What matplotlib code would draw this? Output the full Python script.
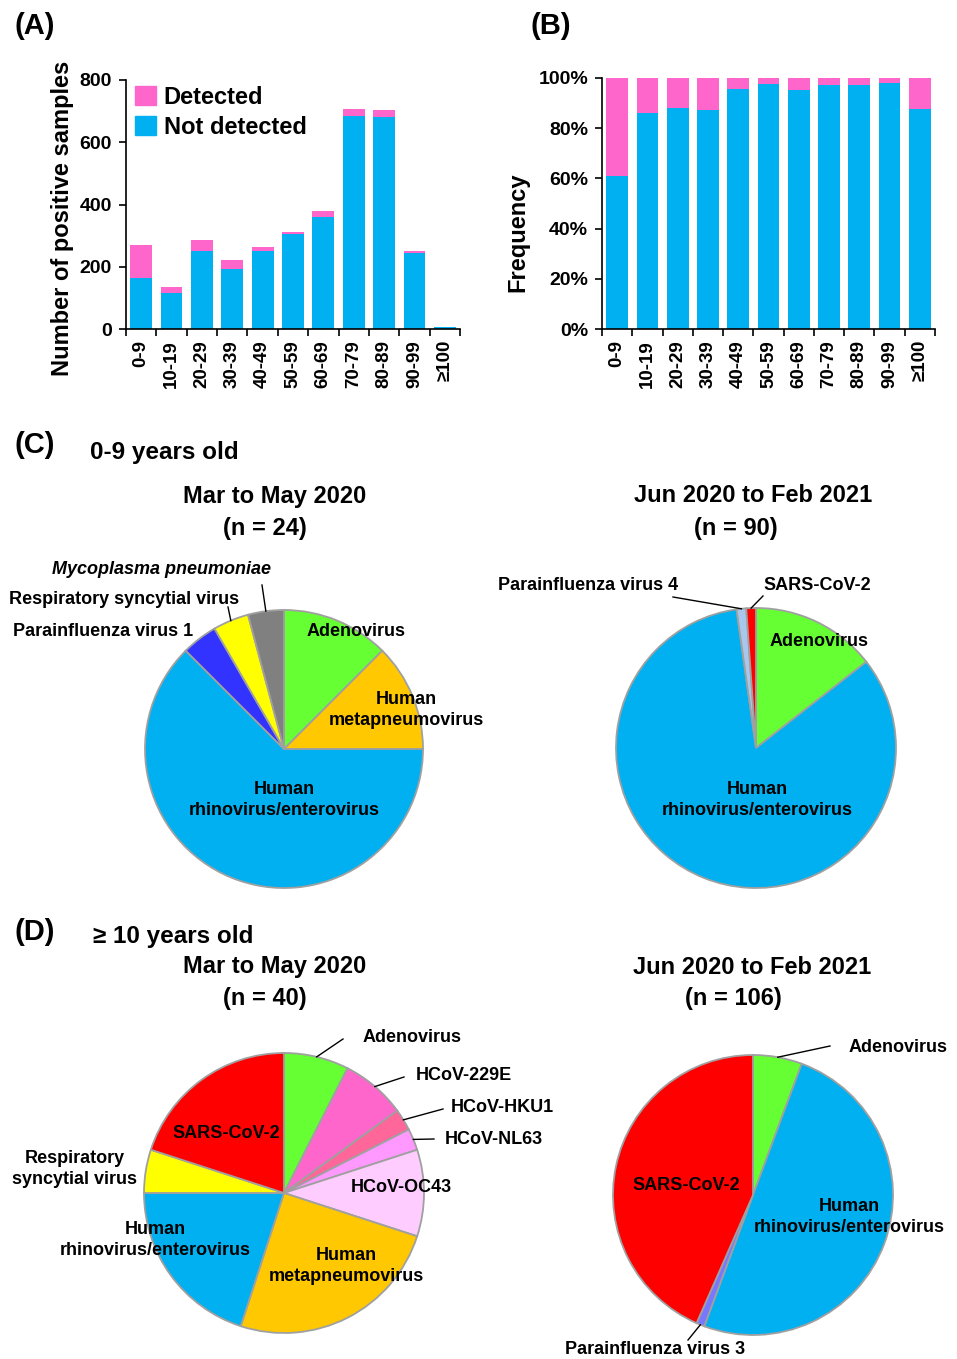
import matplotlib
matplotlib.use("Agg")
import matplotlib.pyplot as plt
from matplotlib.ticker import PercentFormatter
from matplotlib.patches import Patch
import numpy as np

plt.rcParams['font.family'] = ['Liberation Sans', 'DejaVu Sans']
plt.rcParams['font.weight'] = 'bold'

# ---- data ----
age_groups = ['0-9', '10-19', '20-29', '30-39', '40-49', '50-59',
              '60-69', '70-79', '80-89', '90-99', '≥100']
not_detected = np.array([165, 117, 251, 194, 251, 306, 361, 685, 682, 245, 7])
total = np.array([270, 136, 285, 222, 262, 313, 379, 706, 703, 250, 8])
detected = total - not_detected

# pies: slices listed clockwise from 12 o'clock
c1_labels = ['Adenovirus', 'Human metapneumovirus', 'Human rhinovirus/enterovirus',
             'Parainfluenza virus 1', 'Respiratory syncytial virus', 'Mycoplasma pneumoniae']
c1_counts = [3, 3, 15, 1, 1, 1]

c2_labels = ['Adenovirus', 'Human rhinovirus/enterovirus', 'Parainfluenza virus 4', 'SARS-CoV-2']
c2_counts = [13, 75, 1, 1]

d1_labels = ['Adenovirus', 'HCoV-229E', 'HCoV-HKU1', 'HCoV-NL63', 'HCoV-OC43',
             'Human metapneumovirus', 'Human rhinovirus/enterovirus',
             'Respiratory syncytial virus', 'SARS-CoV-2']
d1_counts = [3, 3, 1, 1, 4, 10, 8, 2, 8]

d2_labels = ['Adenovirus', 'Human rhinovirus/enterovirus', 'Parainfluenza virus 3', 'SARS-CoV-2']
d2_counts = [6, 53, 1, 46]

PINK = '#FF66CC'
BLUE = '#00B0F0'
pie_colors = {
    'Adenovirus': '#66FF33',
    'Human metapneumovirus': '#FFC800',
    'Human rhinovirus/enterovirus': BLUE,
    'Parainfluenza virus 1': '#3333FF',
    'Parainfluenza virus 3': '#7777FF',
    'Parainfluenza virus 4': '#A9C7EC',
    'Respiratory syncytial virus': '#FFFF00',
    'Mycoplasma pneumoniae': '#808080',
    'SARS-CoV-2': '#FF0000',
    'HCoV-229E': '#FF66CC',
    'HCoV-HKU1': '#FF6699',
    'HCoV-NL63': '#FF99FF',
    'HCoV-OC43': '#FFCCFF',
}

W, H = 957, 1359
fig = plt.figure(figsize=(W / 100, H / 100), dpi=100)


def box(left, top, right, bottom):
    return [left / W, 1 - bottom / H, (right - left) / W, (bottom - top) / H]


def ftext(x, y, s, size=13, **kw):
    kw.setdefault('ha', 'center')
    kw.setdefault('va', 'center')
    kw.setdefault('linespacing', 1.35)
    fig.text(x / W, 1 - y / H, s, fontsize=size, fontweight='bold', **kw)


def style_bar_axes(ax):
    for side in ('top', 'right'):
        ax.spines[side].set_visible(False)
    for side in ('left', 'bottom'):
        ax.spines[side].set_linewidth(1.2)
    ax.set_xlim(-0.5, len(age_groups) - 0.5)
    ax.set_xticks(np.arange(-0.5, len(age_groups), 1))
    ax.set_xticklabels([])
    ax.set_xticks(np.arange(len(age_groups)), minor=True)
    ax.set_xticklabels(age_groups, minor=True, rotation=90, fontsize=13.5,
                       fontweight='bold')
    ax.tick_params(axis='x', which='major', direction='out', length=5, width=1.2)
    ax.tick_params(axis='x', which='minor', length=0, pad=8)
    ax.tick_params(axis='y', direction='out', length=5, width=1.2, labelsize=14, pad=5)
    for lab in ax.get_yticklabels():
        lab.set_fontweight('bold')


x = np.arange(len(age_groups))
bw = 0.72

# (A) counts
axA = fig.add_axes(box(126, 80, 460, 329))
axA.bar(x, not_detected, bw, color=BLUE, label='Not detected')
axA.bar(x, detected, bw, bottom=not_detected, color=PINK, label='Detected')
axA.set_ylim(0, 800)
axA.set_yticks([0, 200, 400, 600, 800])
style_bar_axes(axA)
axA.set_ylabel('Number of positive samples', fontsize=17, fontweight='bold', va='center')
axA.yaxis.set_label_coords(-0.19, 0.446)
axA.legend(handles=[Patch(color=PINK, label='Detected'), Patch(color=BLUE, label='Not detected')],
           loc='upper left', bbox_to_anchor=(0.0, 1.015), borderaxespad=0, frameon=False,
           handlelength=0.85, handleheight=0.85, handletextpad=0.35,
           labelspacing=0.3, prop={'weight': 'bold', 'size': 17})

# (B) frequency
axB = fig.add_axes(box(602, 78, 935, 329))
frac_nd = not_detected / total
axB.bar(x, frac_nd, bw, color=BLUE)
axB.bar(x, 1 - frac_nd, bw, bottom=frac_nd, color=PINK)
axB.set_ylim(0, 1)
axB.set_yticks(np.linspace(0, 1, 6))
axB.yaxis.set_major_formatter(PercentFormatter(xmax=1, decimals=0))
style_bar_axes(axB)
axB.set_ylabel('Frequency', fontsize=17, fontweight='bold', va='center')
axB.yaxis.set_label_coords(-0.252, 0.386)


def draw_pie(cx, cy, r, labels, counts):
    ax = fig.add_axes(box(cx - r, cy - r, cx + r, cy + r))
    ax.pie(counts, colors=[pie_colors[l] for l in labels], startangle=90,
           counterclock=False, radius=1,
           wedgeprops=dict(edgecolor='#A0A0A0', linewidth=1.3))
    ax.set_xlim(-1, 1)
    ax.set_ylim(-1, 1)
    ax.set_aspect('equal')
    ax.axis('off')
    tot = float(sum(counts))
    cum = np.cumsum([0] + list(counts))
    mids = {l: np.deg2rad(90 - 360 * (cum[i] + counts[i] / 2) / tot)
            for i, l in enumerate(labels)}

    def leader(label, ex, ey):
        a = mids[label]
        ax.plot([np.cos(a), (ex - cx) / r], [np.sin(a), (cy - ey) / r],
                color='black', lw=1.0, clip_on=False)
    return leader


# panel letters and headings
ftext(14, 26, '(A)', size=21, ha='left')
ftext(531, 26, '(B)', size=21, ha='left')
ftext(14, 445, '(C)', size=21, ha='left')
ftext(90, 453, '0-9 years old', size=17.5, ha='left')
ftext(14, 932, '(D)', size=21, ha='left')
ftext(93, 937, '≥ 10 years old', size=17.5, ha='left')

ftext(275, 496, 'Mar to May 2020', size=17)
ftext(265, 528, '(n = 24)', size=17)
ftext(753, 496, 'Jun 2020 to Feb 2021', size=17)
ftext(736, 528, '(n = 90)', size=17)
ftext(275, 967, 'Mar to May 2020', size=17)
ftext(265, 999, '(n = 40)', size=17)
ftext(752, 967, 'Jun 2020 to Feb 2021', size=17)
ftext(733, 999, '(n = 106)', size=17)

# (C) 0-9 years, Mar-May 2020
lead = draw_pie(284, 749, 139, c1_labels, c1_counts)
lead('Mycoplasma pneumoniae', 262, 585)
lead('Respiratory syncytial virus', 228, 607)
ftext(356, 632, 'Adenovirus')
ftext(406, 710, 'Human\nmetapneumovirus')
ftext(284, 800, 'Human\nrhinovirus/enterovirus')
ftext(161, 569, 'Mycoplasma pneumoniae', style='italic')
ftext(124, 600, 'Respiratory syncytial virus')
ftext(103, 631, 'Parainfluenza virus 1')

# (C) 0-9 years, Jun 2020-Feb 2021
lead = draw_pie(756, 748, 140, c2_labels, c2_counts)
lead('Parainfluenza virus 4', 673, 597)
lead('SARS-CoV-2', 763, 596)
ftext(588, 585, 'Parainfluenza virus 4')
ftext(817, 585, 'SARS-CoV-2')
ftext(819, 642, 'Adenovirus')
ftext(757, 800, 'Human\nrhinovirus/enterovirus')

# (D) >=10 years, Mar-May 2020
lead = draw_pie(284, 1193, 140, d1_labels, d1_counts)
lead('Adenovirus', 343, 1039)
lead('HCoV-229E', 404, 1077)
lead('HCoV-HKU1', 443, 1109)
lead('HCoV-NL63', 434, 1139)
ftext(412, 1038, 'Adenovirus')
ftext(464, 1075, 'HCoV-229E')
ftext(502, 1108, 'HCoV-HKU1')
ftext(494, 1140, 'HCoV-NL63')
ftext(401, 1188, 'HCoV-OC43')
ftext(226, 1134, 'SARS-CoV-2')
ftext(75, 1169, 'Respiratory\nsyncytial virus')
ftext(155, 1240, 'Human\nrhinovirus/enterovirus')
ftext(346, 1266, 'Human\nmetapneumovirus')

# (D) >=10 years, Jun 2020-Feb 2021
lead = draw_pie(753, 1195, 140, d2_labels, d2_counts)
lead('Adenovirus', 830, 1046)
lead('Parainfluenza virus 3', 688, 1340)
ftext(898, 1047, 'Adenovirus')
ftext(686, 1185, 'SARS-CoV-2')
ftext(849, 1217, 'Human\nrhinovirus/enterovirus')
ftext(655, 1350, 'Parainfluenza virus 3')

fig.savefig('out.png', dpi=100, facecolor='white')
